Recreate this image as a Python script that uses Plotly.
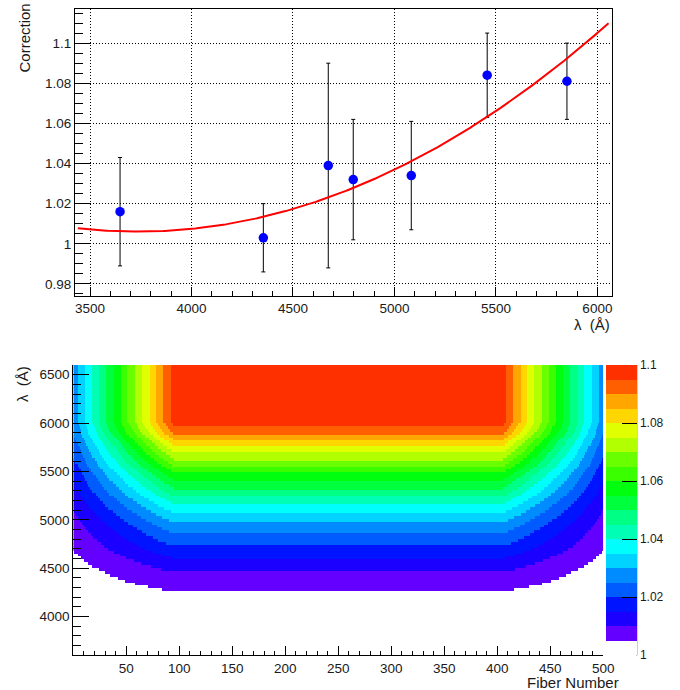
import numpy as np
import plotly.graph_objects as go

# ---------------- top panel: measured correction vs wavelength ----------------
wavelength = [3648, 4354, 4674, 4797, 5083, 5457, 5850]
correction = [1.016, 1.003, 1.039, 1.032, 1.034, 1.084, 1.081]
correction_err = [0.027, 0.017, 0.051, 0.030, 0.027, 0.021, 0.019]

# quadratic fit (vertex form)
fit_vertex_lambda = 3736.0
fit_vertex_value = 1.0061
fit_curvature = 1.93e-8
fit_range = [3440, 6055]

top_xticks = [3500, 4000, 4500, 5000, 5500, 6000]
top_xlabels = ["3500", "4000", "4500", "5000", "5500", "6000"]
top_yticks = [0.98, 1.0, 1.02, 1.04, 1.06, 1.08, 1.1]
top_ylabels = ["0.98", "1", "1.02", "1.04", "1.06", "1.08", "1.1"]

# ---------------- bottom panel: correction map ----------------
# contour crossings in the flat (central-fiber) part of the map
mid_lambda = [4058, 4258, 4458, 4600, 4726, 4850, 4974, 5070, 5160, 5246, 5325,
              5408, 5487, 5549, 5625, 5690, 5762, 5831, 5882, 5972, 6010]
mid_value = [1.000, 1.005, 1.010, 1.015, 1.020, 1.025, 1.030, 1.035, 1.040, 1.045, 1.050,
             1.055, 1.060, 1.065, 1.070, 1.075, 1.080, 1.085, 1.090, 1.095, 1.097]
# contour crossings along the top row, vs distance from the outer fiber
edge_dist = [0, 4.5, 11.2, 17.9, 24.5, 31.0, 38.0, 45.1, 51.5, 58.4, 65.1, 71.7, 78.1, 85.2, 92.0, 95.0]
edge_value = [1.0267, 1.030, 1.035, 1.040, 1.045, 1.050, 1.055, 1.060, 1.065, 1.070,
              1.075, 1.080, 1.085, 1.090, 1.095, 1.097]
map_plateau = 1.097

n_fibers = 500
lambda_min, lambda_max, lambda_bin = 3600, 6600, 30

map_xticks = [50, 100, 150, 200, 250, 300, 350, 400, 450, 500]
map_xlabels = [str(v) for v in map_xticks]
map_yticks = [4000, 4500, 5000, 5500, 6000, 6500]
map_ylabels = [str(v) for v in map_yticks]
cbar_ticks = [1.0, 1.02, 1.04, 1.06, 1.08, 1.1]
cbar_labels = ["1", "1.02", "1.04", "1.06", "1.08", "1.1"]

# palette (20 contour levels between 1.0 and 1.1, first level left blank)
level_colors = ["#FFFFFF", "#6300FF", "#1B00FF", "#0014FF", "#005CFF", "#008BFF",
                "#00D3FF", "#00FFFC", "#00FFB4", "#00FF85", "#00FF3D", "#00FF0E",
                "#3AFF00", "#69FF00", "#B1FF00", "#E0FF00", "#FFD600", "#FFA700",
                "#FF5F00", "#FF3000"]

# ---------------- build derived arrays ----------------
fit_x = np.linspace(fit_range[0], fit_range[1], 300)
fit_y = fit_vertex_value + fit_curvature * (fit_x - fit_vertex_lambda) ** 2

fiber_c = np.arange(n_fibers) + 0.5
lam_c = np.arange(lambda_min, lambda_max, lambda_bin) + lambda_bin / 2
dist = np.minimum(fiber_c, n_fibers - fiber_c)
v_mid = np.interp(lam_c, mid_lambda, mid_value, left=1.0, right=map_plateau)
v_edge = np.interp(dist, edge_dist, edge_value, right=map_plateau)
w_edge = (v_edge - 1.0) / (map_plateau - 1.0)
z = 1.0 + (v_mid[:, None] - 1.0) * w_edge[None, :]

nlev = len(level_colors)
colorscale = []
for i, c in enumerate(level_colors):
    colorscale.append([i / nlev, c])
    colorscale.append([(i + 1) / nlev, c])

W, H = 680, 690
FONT = "Liberation Sans, Arial, Helvetica, sans-serif"
TXT = "#1a1a1a"

def px(x):
    return x / W

def py(y):
    return 1 - y / H

fig = go.Figure()

fig.add_trace(go.Scatter(
    x=wavelength, y=correction, mode="markers",
    marker=dict(color="#0000FF", size=9.5),
    error_y=dict(type="data", array=correction_err, color="black", thickness=1, width=2),
    xaxis="x", yaxis="y", showlegend=False, hoverinfo="skip"))
fig.add_trace(go.Scatter(
    x=fit_x, y=fit_y, mode="lines", line=dict(color="#FF0000", width=2),
    xaxis="x", yaxis="y", showlegend=False, hoverinfo="skip"))

fig.add_trace(go.Heatmap(
    x=fiber_c, y=lam_c, z=z, zmin=1.0, zmax=1.1, colorscale=colorscale,
    xaxis="x2", yaxis="y2", zsmooth=False,
    colorbar=dict(
        x=px(606), xanchor="left", xpad=0, ypad=0,
        y=py(365), yanchor="top", lenmode="pixels", len=290,
        thicknessmode="pixels", thickness=31,
        outlinewidth=0, ticks="inside", ticklen=15, tickcolor="black", tickwidth=1,
        tickvals=cbar_ticks, ticktext=cbar_labels,
        tickfont=dict(family=FONT, size=12, color=TXT)),
    hoverinfo="skip"))

axis_common = dict(showline=True, linecolor="black", linewidth=1, ticks="inside",
                   tickcolor="black", tickwidth=1, zeroline=False,
                   tickfont=dict(family=FONT, size=13.5, color=TXT))

fig.update_layout(
    width=W, height=H, margin=dict(l=0, r=0, t=0, b=0, autoexpand=False),
    paper_bgcolor="white", plot_bgcolor="white",
    xaxis=dict(domain=[px(75), px(612)], range=[3426, 6072], anchor="y",
               mirror=True, ticklen=9, tickmode="array", tickvals=top_xticks, ticktext=top_xlabels,
               showgrid=True, gridcolor="black", gridwidth=1, griddash="1px,2px",
               minor=dict(tickmode="linear", tick0=3500, dtick=100, ticks="inside", ticklen=5,
                          tickcolor="black", showgrid=False),
               **axis_common),
    yaxis=dict(domain=[py(296), py(9)], range=[0.974, 1.117], anchor="x",
               mirror=True, ticklen=16, tickmode="array", tickvals=top_yticks, ticktext=top_ylabels,
               showgrid=True, gridcolor="black", gridwidth=1, griddash="1px,2px",
               minor=dict(tickmode="linear", tick0=0.98, dtick=0.005, ticks="inside", ticklen=8,
                          tickcolor="black", showgrid=False),
               **axis_common),
    xaxis2=dict(domain=[px(73.3), px(603.3)], range=[0, 500], anchor="y2",
                ticklen=9, tickmode="array", tickvals=map_xticks, ticktext=map_xlabels,
                showgrid=False,
                minor=dict(tickmode="linear", tick0=0, dtick=10, ticks="inside", ticklen=4.5,
                           tickcolor="black", showgrid=False),
                **axis_common),
    yaxis2=dict(domain=[py(655.3), py(365)], range=[3600, 6600], anchor="x2",
                ticklen=16, tickmode="array", tickvals=map_yticks, ticktext=map_ylabels,
                showgrid=False,
                minor=dict(tickmode="linear", tick0=4000, dtick=100, ticks="inside", ticklen=8,
                           tickcolor="black", showgrid=False),
                **axis_common),
    shapes=[dict(type="line", xref="paper", yref="paper",
                 x0=px(636.7), x1=px(636.7), y0=py(365), y1=py(655.3),
                 line=dict(color="black", width=1))],
    annotations=[
        dict(text="Correction", xref="paper", yref="paper", x=px(24), y=py(2),
             xanchor="center", yanchor="top", textangle=-90, showarrow=False,
             font=dict(family=FONT, size=15, color=TXT)),
        dict(text="λ\u00a0 (Å)", xref="paper", yref="paper", x=px(612), y=py(314),
             xanchor="right", yanchor="top", showarrow=False,
             font=dict(family=FONT, size=15, color=TXT)),
        dict(text="λ\u00a0 (Å)", xref="paper", yref="paper", x=px(22), y=py(364),
             xanchor="center", yanchor="top", textangle=-90, showarrow=False,
             font=dict(family=FONT, size=15, color=TXT)),
        dict(text="Fiber Number", xref="paper", yref="paper", x=px(621), y=py(672),
             xanchor="right", yanchor="top", showarrow=False,
             font=dict(family=FONT, size=15, color=TXT)),
    ],
)

# remove the browser's default 8px body margin so the figure fills the window exactly
fig.write_html("out.html",
               config={"displayModeBar": False},
               post_script="document.body.style.margin='0';"
                           "document.documentElement.style.overflow='hidden';")
